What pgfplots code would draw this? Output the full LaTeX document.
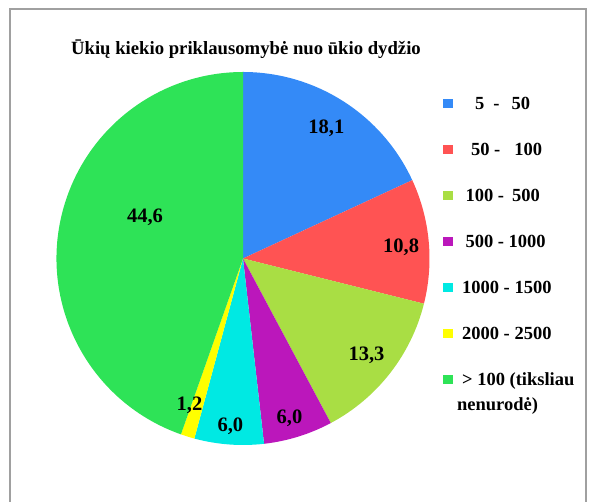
\documentclass[border=0pt]{standalone}
\usepackage{pgfplots}
\pgfplotsset{compat=1.18}
\usepackage{fontspec}
\setmainfont{Liberation Serif}
\definecolor{c1}{RGB}{52,138,247}
\definecolor{c2}{RGB}{255,83,83}
\definecolor{c3}{RGB}{169,222,68}
\definecolor{c4}{RGB}{187,23,187}
\definecolor{c5}{RGB}{0,233,227}
\definecolor{c6}{RGB}{255,255,0}
\definecolor{c7}{RGB}{46,227,87}
\pgfplotsset{sqleg/.style={legend image code/.code={\fill[#1] (0pt,1.5pt) rectangle (8.5pt,10pt);}}}
\begin{document}
\begin{tikzpicture}[x=1pt,y=1pt]
\path[use as bounding box] (0,0) rectangle (591,502);
\draw[color={rgb,255:red,160;green,160;blue,160}, line width=1.3pt] (10,-5) -- (10,493) -- (586,493) -- (586,-5);
\node[anchor=base, font=\fontsize{18.7}{22}\selectfont\bfseries, inner sep=0pt] at (246,447) {Ūkių kiekio priklausomybė nuo ūkio dydžio};
\begin{axis}[at={(243pt,243.5pt)}, anchor=center, width=373pt, height=373pt, scale only axis,
  xmin=-1, xmax=1, ymin=-1, ymax=1, hide axis, clip=false,
  legend style={at={(1.0362,0.933)}, anchor=north west, draw=none, fill=none, inner sep=0pt,
    row sep=30pt, column sep=5pt, font=\fontsize{18.5}{20}\selectfont\bfseries,
    nodes={inner sep=0pt, text height=12pt, text depth=4pt, anchor=base west}},
  legend cell align=left]
\addlegendimage{sqleg=c1}\addlegendentry{\hspace{18pt}5\hspace{9pt}-\hspace{12pt}50}
\addlegendimage{sqleg=c2}\addlegendentry{\hspace{14pt}50 -\hspace{14pt}100}
\addlegendimage{sqleg=c3}\addlegendentry{\hspace{8.5pt}100 -\hspace{8pt}500}
\addlegendimage{sqleg=c4}\addlegendentry{\hspace{8.5pt}500 - 1000}
\addlegendimage{sqleg=c5}\addlegendentry{\hspace{5pt}1000 - 1500}
\addlegendimage{sqleg=c6}\addlegendentry{\hspace{5pt}2000 - 2500}
\addlegendimage{sqleg=c7}\addlegendentry{\fontsize{18.5}{25}\selectfont\begin{tabular}[t]{@{}l@{}}\hspace{5pt}> 100 (tiksliau\\nenurodė)\end{tabular}}
\pgfplotsextra{
  \xdef\cum{0}
  \foreach \v/\c in {18.1/c1, 10.8/c2, 13.3/c3, 6.0/c4, 6.0/c5, 1.2/c6, 44.6/c7}{
    \pgfmathsetmacro\sa{90-\cum*3.6}
    \pgfmathsetmacro\ea{90-(\cum+\v)*3.6}
    \fill[\c] (axis cs:0,0) -- ++(\sa:186.5pt) arc[start angle=\sa, end angle=\ea, radius=186.5pt] -- cycle;
    \pgfmathsetmacro\cumn{\cum+\v}
    \xdef\cum{\cumn}
  }
  \xdef\cum{0}
  \foreach \v/\rr/\aa in {18.1/0.83/0, 10.8/0.85/-1.3, 13.3/0.84/0, 6.0/0.89/-1, 6.0/0.90/0, 1.2/0.84/-2.7, 44.6/0.57/-13}{
    \pgfmathsetmacro\sa{90-\cum*3.6}
    \pgfmathsetmacro\ea{90-(\cum+\v)*3.6}
    \pgfmathsetmacro\ma{(\sa+\ea)/2+\aa}
    \pgfmathsetmacro\rad{\rr*186.5}
    \path (axis cs:0,0) ++(\ma:\rad pt) node[font=\fontsize{20.5}{24}\selectfont\bfseries]
      {\pgfmathprintnumber[assume math mode=true,use comma,fixed,fixed zerofill,precision=1]{\v}};
    \pgfmathsetmacro\cumn{\cum+\v}
    \xdef\cum{\cumn}
  }
}
\end{axis}
\end{tikzpicture}
\end{document}
